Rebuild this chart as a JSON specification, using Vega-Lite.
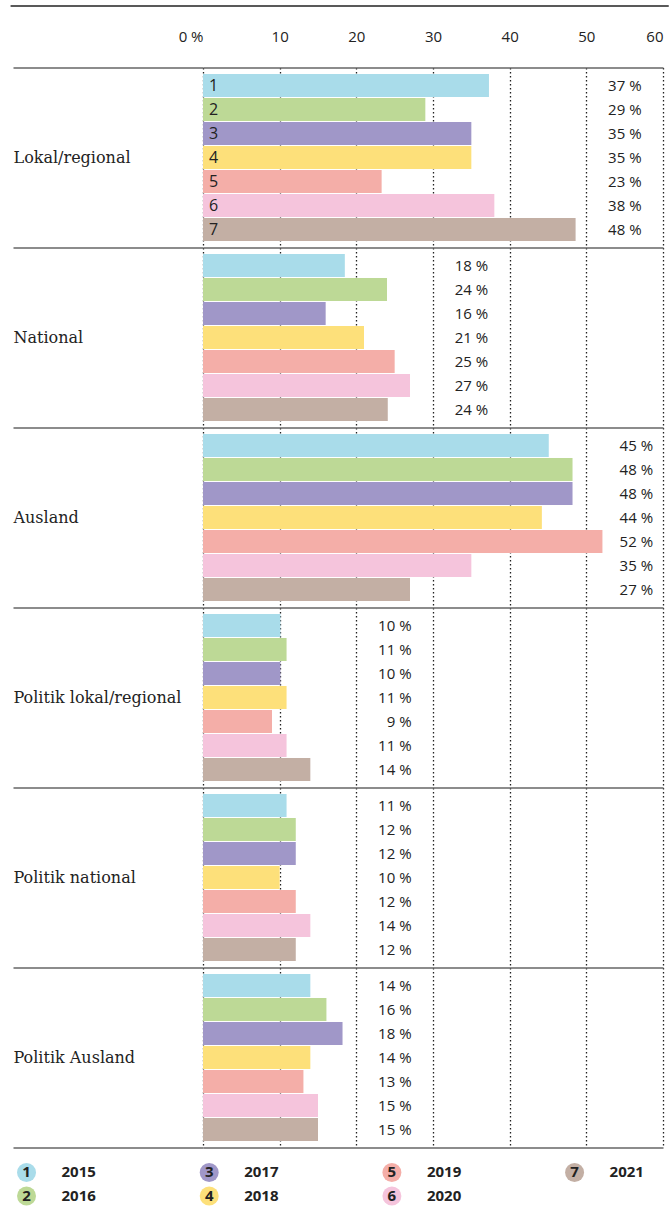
{
  "$schema": "https://vega.github.io/schema/vega-lite/v6.json",
  "padding": {"left": 9, "top": 4.5, "right": 0, "bottom": 0},
  "config": {"view": {"stroke": null}, "font": "Open Sans"},
  "columns": 1,
  "spacing": 13,
  "concat": [
    {
      "width": 460,
      "height": 1080,
      "data": {"values": [
        {"group": "Lokal/regional", "idx": 1, "value": 37.3, "pct": 37},
        {"group": "Lokal/regional", "idx": 2, "value": 29, "pct": 29},
        {"group": "Lokal/regional", "idx": 3, "value": 35, "pct": 35},
        {"group": "Lokal/regional", "idx": 4, "value": 35, "pct": 35},
        {"group": "Lokal/regional", "idx": 5, "value": 23.3, "pct": 23},
        {"group": "Lokal/regional", "idx": 6, "value": 38, "pct": 38},
        {"group": "Lokal/regional", "idx": 7, "value": 48.6, "pct": 48},
        {"group": "National", "idx": 1, "value": 18.5, "pct": 18},
        {"group": "National", "idx": 2, "value": 24, "pct": 24},
        {"group": "National", "idx": 3, "value": 16, "pct": 16},
        {"group": "National", "idx": 4, "value": 21, "pct": 21},
        {"group": "National", "idx": 5, "value": 25, "pct": 25},
        {"group": "National", "idx": 6, "value": 27, "pct": 27},
        {"group": "National", "idx": 7, "value": 24.1, "pct": 24},
        {"group": "Ausland", "idx": 1, "value": 45.1, "pct": 45},
        {"group": "Ausland", "idx": 2, "value": 48.2, "pct": 48},
        {"group": "Ausland", "idx": 3, "value": 48.2, "pct": 48},
        {"group": "Ausland", "idx": 4, "value": 44.2, "pct": 44},
        {"group": "Ausland", "idx": 5, "value": 52.1, "pct": 52},
        {"group": "Ausland", "idx": 6, "value": 35, "pct": 35},
        {"group": "Ausland", "idx": 7, "value": 27, "pct": 27},
        {"group": "Politik lokal/regional", "idx": 1, "value": 10.1, "pct": 10},
        {"group": "Politik lokal/regional", "idx": 2, "value": 10.9, "pct": 11},
        {"group": "Politik lokal/regional", "idx": 3, "value": 10.1, "pct": 10},
        {"group": "Politik lokal/regional", "idx": 4, "value": 10.9, "pct": 11},
        {"group": "Politik lokal/regional", "idx": 5, "value": 9, "pct": 9},
        {"group": "Politik lokal/regional", "idx": 6, "value": 10.9, "pct": 11},
        {"group": "Politik lokal/regional", "idx": 7, "value": 14, "pct": 14},
        {"group": "Politik national", "idx": 1, "value": 10.9, "pct": 11},
        {"group": "Politik national", "idx": 2, "value": 12.1, "pct": 12},
        {"group": "Politik national", "idx": 3, "value": 12.1, "pct": 12},
        {"group": "Politik national", "idx": 4, "value": 10, "pct": 10},
        {"group": "Politik national", "idx": 5, "value": 12.1, "pct": 12},
        {"group": "Politik national", "idx": 6, "value": 14, "pct": 14},
        {"group": "Politik national", "idx": 7, "value": 12.1, "pct": 12},
        {"group": "Politik Ausland", "idx": 1, "value": 14, "pct": 14},
        {"group": "Politik Ausland", "idx": 2, "value": 16.1, "pct": 16},
        {"group": "Politik Ausland", "idx": 3, "value": 18.2, "pct": 18},
        {"group": "Politik Ausland", "idx": 4, "value": 14, "pct": 14},
        {"group": "Politik Ausland", "idx": 5, "value": 13.1, "pct": 13},
        {"group": "Politik Ausland", "idx": 6, "value": 15, "pct": 15},
        {"group": "Politik Ausland", "idx": 7, "value": 15, "pct": 15}
      ]},
      "transform": [
        {"joinaggregate": [{"op": "max", "field": "pct", "as": "gmax"}], "groupby": ["group"]},
        {"calculate": "min(ceil(datum.gmax / 10) * 10 + 7.2, 58.7)", "as": "labX"},
        {"calculate": "datum.pct + ' %'", "as": "label"}
      ],
      "encoding": {
        "y": {
          "field": "group", "type": "nominal",
          "sort": ["Lokal/regional", "National", "Ausland", "Politik lokal/regional", "Politik national", "Politik Ausland"],
          "scale": {"paddingInner": 0, "paddingOuter": 0},
          "axis": {
            "orient": "left", "title": null, "tickBand": "extent", "ticks": true, "tickSize": 190,
            "tickColor": "#666", "tickWidth": 1.5, "grid": true, "gridColor": "#666", "gridWidth": 1.5,
            "domain": false, "labelAlign": "left", "labelPadding": 0, "labelFont": "DejaVu Serif",
            "labelFontSize": 16, "labelColor": "#222", "labelBaseline": "middle", "labelLimit": 220
          }
        },
        "yOffset": {"field": "idx", "type": "nominal", "scale": {"paddingInner": 0.05, "paddingOuter": 0.275}}
      },
      "layer": [
        {
          "mark": {"type": "bar"},
          "encoding": {
            "x": {
              "field": "value", "type": "quantitative",
              "scale": {"domain": [0, 60], "nice": false},
              "axis": {
                "orient": "top", "title": null, "values": [0, 10, 20, 30, 40, 50, 60],
                "labelExpr": "datum.value == 0 ? '0 %' : datum.label",
                "grid": true, "gridDash": [1.5, 2.5], "gridColor": "#222", "gridWidth": 1.3,
                "ticks": false, "domain": false, "labelPadding": 23, "labelFlush": false,
                "labelFont": "Open Sans", "labelFontSize": 15, "labelColor": "#222",
                "labelAlign": {"condition": {"test": "datum.value == 0 || datum.value == 60", "value": "right"}, "value": "center"}
              }
            },
            "color": {
              "field": "idx", "type": "nominal",
              "scale": {"domain": [1, 2, 3, 4, 5, 6, 7], "range": ["#a9dcea", "#bdd996", "#a097c8", "#fde07a", "#f4aea8", "#f5c4dc", "#c3afa4"]},
              "legend": null
            }
          }
        },
        {
          "transform": [{"filter": "datum.group == 'Lokal/regional'"}],
          "mark": {"type": "text", "align": "left", "dx": 6, "font": "Open Sans", "fontSize": 16, "color": "#222", "baseline": "middle"},
          "encoding": {
            "x": {"datum": 0, "type": "quantitative"},
            "text": {"field": "idx", "type": "nominal"}
          }
        },
        {
          "mark": {"type": "text", "align": "right", "font": "Open Sans", "fontSize": 15, "color": "#222", "baseline": "middle"},
          "encoding": {
            "x": {"field": "labX", "type": "quantitative"},
            "text": {"field": "label", "type": "nominal"}
          }
        },
        {
          "data": {"values": [{"k": 1}]},
          "mark": {"type": "rule", "yOffset": -61.5, "color": "#222", "strokeWidth": 1.3, "clip": false},
          "encoding": {
            "x": {"datum": -25.1, "type": "quantitative"},
            "x2": {"datum": 60.75},
            "y": {"datum": "Lokal/regional", "type": "nominal", "bandPosition": 0},
            "yOffset": null
          }
        }
      ]
    },
    {
      "width": 460,
      "height": 45.5,
      "data": {"values": [
        {"idx": 1, "year": "2015"},
        {"idx": 2, "year": "2016"},
        {"idx": 3, "year": "2017"},
        {"idx": 4, "year": "2018"},
        {"idx": 5, "year": "2019"},
        {"idx": 6, "year": "2020"},
        {"idx": 7, "year": "2021"}
      ]},
      "transform": [
        {"calculate": "floor((datum.idx - 1) / 2)", "as": "col"},
        {"calculate": "(datum.idx - 1) % 2", "as": "row"}
      ],
      "encoding": {
        "x": {"field": "col", "type": "quantitative", "scale": {"domain": [0.966, 3.484], "nice": false, "zero": false}, "axis": null},
        "y": {"field": "row", "type": "ordinal", "scale": {"type": "point", "padding": 0.468}, "axis": null}
      },
      "layer": [
        {
          "mark": {"type": "point", "filled": true, "size": 360, "opacity": 1, "clip": false},
          "encoding": {"color": {"field": "idx", "type": "nominal", "legend": null}}
        },
        {
          "mark": {"type": "text", "font": "Open Sans", "fontSize": 15, "fontWeight": "bold", "color": "#222", "baseline": "middle"},
          "encoding": {"text": {"field": "idx", "type": "nominal"}}
        },
        {
          "mark": {"type": "text", "align": "left", "dx": 35, "font": "Open Sans", "fontSize": 15, "fontWeight": "bold", "color": "#222", "baseline": "middle"},
          "encoding": {"text": {"field": "year", "type": "nominal"}}
        }
      ]
    }
  ]
}
